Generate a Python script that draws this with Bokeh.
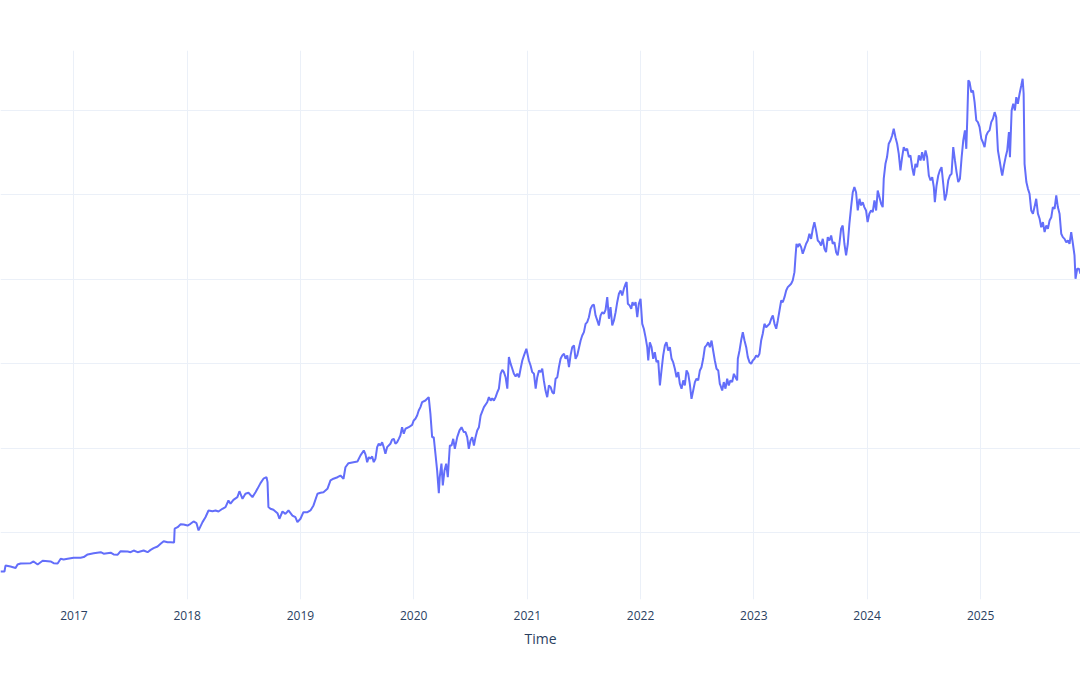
from datetime import datetime
from bokeh.plotting import figure
from bokeh.models import ColumnDataSource, Range1d, FixedTicker, Grid, DatetimeTickFormatter
from bokeh.embed import file_html
from bokeh.resources import INLINE

# Time in decimal years
time_years = [
    2016.353, 2016.388, 2016.397, 2016.441, 2016.486, 2016.503, 2016.530, 2016.618, 2016.644, 2016.680,
    2016.724, 2016.794, 2016.821, 2016.856, 2016.883, 2016.909, 2016.944, 2016.997, 2017.059, 2017.086,
    2017.121, 2017.174, 2017.236, 2017.262, 2017.324, 2017.350, 2017.386, 2017.412, 2017.474, 2017.500,
    2017.527, 2017.562, 2017.615, 2017.650, 2017.677, 2017.703, 2017.738, 2017.765, 2017.792, 2017.827,
    2017.853, 2017.884, 2017.889, 2017.915, 2017.942, 2017.968, 2018.003, 2018.029, 2018.056, 2018.082,
    2018.100, 2018.135, 2018.161, 2018.188, 2018.223, 2018.250, 2018.276, 2018.311, 2018.338, 2018.364,
    2018.382, 2018.408, 2018.443, 2018.461, 2018.488, 2018.514, 2018.541, 2018.576, 2018.603, 2018.620,
    2018.647, 2018.673, 2018.700, 2018.709, 2018.717, 2018.735, 2018.761, 2018.797, 2018.814, 2018.841,
    2018.867, 2018.894, 2018.929, 2018.955, 2018.973, 2019.000, 2019.026, 2019.062, 2019.088, 2019.115,
    2019.150, 2019.177, 2019.203, 2019.238, 2019.265, 2019.291, 2019.327, 2019.353, 2019.380, 2019.397,
    2019.424, 2019.468, 2019.503, 2019.530, 2019.559, 2019.574, 2019.589, 2019.603, 2019.618, 2019.633,
    2019.647, 2019.662, 2019.677, 2019.691, 2019.706, 2019.721, 2019.735, 2019.750, 2019.765, 2019.794,
    2019.809, 2019.824, 2019.838, 2019.853, 2019.868, 2019.882, 2019.897, 2019.912, 2019.927, 2019.956,
    2019.986, 2020.000, 2020.015, 2020.030, 2020.044, 2020.059, 2020.074, 2020.103, 2020.132, 2020.147,
    2020.162, 2020.176, 2020.191, 2020.206, 2020.221, 2020.229, 2020.244, 2020.256, 2020.271, 2020.286,
    2020.300, 2020.318, 2020.333, 2020.348, 2020.362, 2020.383, 2020.403, 2020.421, 2020.441, 2020.456,
    2020.471, 2020.485, 2020.500, 2020.515, 2020.530, 2020.544, 2020.559, 2020.574, 2020.589, 2020.618,
    2020.647, 2020.662, 2020.677, 2020.691, 2020.706, 2020.721, 2020.736, 2020.750, 2020.765, 2020.780,
    2020.794, 2020.809, 2020.824, 2020.838, 2020.853, 2020.868, 2020.882, 2020.897, 2020.912, 2020.927,
    2020.941, 2020.956, 2020.971, 2020.992, 2021.014, 2021.029, 2021.044, 2021.059, 2021.074, 2021.088,
    2021.103, 2021.118, 2021.132, 2021.146, 2021.161, 2021.176, 2021.191, 2021.206, 2021.221, 2021.235,
    2021.250, 2021.265, 2021.279, 2021.294, 2021.309, 2021.324, 2021.338, 2021.353, 2021.368, 2021.382,
    2021.397, 2021.412, 2021.426, 2021.441, 2021.471, 2021.485, 2021.500, 2021.515, 2021.529, 2021.544,
    2021.559, 2021.574, 2021.588, 2021.603, 2021.618, 2021.632, 2021.647, 2021.662, 2021.677, 2021.691,
    2021.706, 2021.721, 2021.735, 2021.750, 2021.765, 2021.780, 2021.794, 2021.809, 2021.824, 2021.838,
    2021.853, 2021.868, 2021.877, 2021.888, 2021.903, 2021.918, 2021.929, 2021.941, 2021.956, 2021.971,
    2021.985, 2022.000, 2022.015, 2022.029, 2022.044, 2022.059, 2022.068, 2022.082, 2022.097, 2022.112,
    2022.126, 2022.141, 2022.156, 2022.171, 2022.185, 2022.200, 2022.215, 2022.229, 2022.244, 2022.259,
    2022.274, 2022.288, 2022.303, 2022.318, 2022.333, 2022.347, 2022.362, 2022.377, 2022.391, 2022.406,
    2022.421, 2022.435, 2022.450, 2022.465, 2022.480, 2022.494, 2022.509, 2022.524, 2022.538, 2022.553,
    2022.568, 2022.582, 2022.597, 2022.612, 2022.627, 2022.641, 2022.656, 2022.671, 2022.686, 2022.700,
    2022.706, 2022.721, 2022.735, 2022.750, 2022.765, 2022.779, 2022.794, 2022.809, 2022.824, 2022.838,
    2022.853, 2022.859, 2022.874, 2022.888, 2022.903, 2022.918, 2022.933, 2022.947, 2022.962, 2022.977,
    2022.991, 2023.006, 2023.021, 2023.035, 2023.050, 2023.065, 2023.079, 2023.094, 2023.109, 2023.124,
    2023.139, 2023.154, 2023.168, 2023.183, 2023.198, 2023.212, 2023.227, 2023.242, 2023.256, 2023.271,
    2023.286, 2023.300, 2023.315, 2023.330, 2023.344, 2023.359, 2023.368, 2023.377, 2023.388, 2023.403,
    2023.418, 2023.432, 2023.447, 2023.462, 2023.477, 2023.491, 2023.506, 2023.521, 2023.535, 2023.550,
    2023.565, 2023.580, 2023.594, 2023.609, 2023.624, 2023.638, 2023.653, 2023.668, 2023.683, 2023.697,
    2023.712, 2023.727, 2023.741, 2023.756, 2023.771, 2023.785, 2023.800, 2023.815, 2023.830, 2023.844,
    2023.859, 2023.874, 2023.888, 2023.903, 2023.918, 2023.933, 2023.947, 2023.962, 2023.976, 2023.991,
    2024.005, 2024.020, 2024.035, 2024.050, 2024.065, 2024.080, 2024.094, 2024.109, 2024.124, 2024.138,
    2024.147, 2024.162, 2024.176, 2024.191, 2024.206, 2024.221, 2024.235, 2024.250, 2024.265, 2024.279,
    2024.294, 2024.309, 2024.323, 2024.338, 2024.353, 2024.368, 2024.382, 2024.397, 2024.412, 2024.426,
    2024.441, 2024.456, 2024.471, 2024.485, 2024.500, 2024.515, 2024.529, 2024.544, 2024.559, 2024.574,
    2024.588, 2024.597, 2024.612, 2024.627, 2024.641, 2024.656, 2024.671, 2024.685, 2024.700, 2024.715,
    2024.730, 2024.744, 2024.759, 2024.774, 2024.788, 2024.803, 2024.818, 2024.833, 2024.847, 2024.862,
    2024.874, 2024.883, 2024.892, 2024.903, 2024.918, 2024.933, 2024.947, 2024.962, 2024.976, 2024.991,
    2025.006, 2025.020, 2025.035, 2025.050, 2025.064, 2025.079, 2025.094, 2025.109, 2025.124, 2025.138,
    2025.153, 2025.168, 2025.182, 2025.191, 2025.206, 2025.221, 2025.235, 2025.250, 2025.259, 2025.274,
    2025.288, 2025.303, 2025.315, 2025.329, 2025.344, 2025.359, 2025.371, 2025.380, 2025.388, 2025.404,
    2025.418, 2025.432, 2025.447, 2025.462, 2025.476, 2025.491, 2025.506, 2025.521, 2025.535, 2025.550,
    2025.565, 2025.580, 2025.594, 2025.609, 2025.624, 2025.638, 2025.653, 2025.668, 2025.682, 2025.697,
    2025.712, 2025.726, 2025.741, 2025.756, 2025.771, 2025.785, 2025.800, 2025.815, 2025.829, 2025.838,
    2025.853, 2025.868, 2025.882,
]

values = [
    27.1, 27.1, 30.6, 30.0, 29.2, 31.2, 31.8, 32.0, 33.0, 31.2,
    33.4, 33.0, 32.0, 31.8, 34.6, 34.2, 34.6, 35.2, 35.2, 35.6,
    37.2, 37.9, 38.5, 37.6, 38.2, 37.2, 37.0, 39.1, 38.9, 38.5,
    39.5, 38.5, 39.5, 38.5, 39.9, 40.9, 41.9, 43.5, 45.0, 44.4,
    44.4, 44.3, 52.4, 53.3, 55.0, 54.9, 54.3, 55.3, 56.7, 55.7,
    51.4, 56.3, 59.2, 63.2, 62.8, 63.2, 62.6, 64.2, 65.2, 69.1,
    67.2, 69.5, 71.1, 74.6, 70.1, 73.1, 73.7, 71.1, 74.0, 76.0,
    79.4, 82.0, 82.9, 80.0, 65.2, 64.2, 63.6, 61.6, 58.3, 62.6,
    61.2, 63.2, 60.2, 59.2, 56.3, 58.3, 62.2, 62.2, 63.2, 66.2,
    73.1, 73.7, 74.0, 76.0, 81.0, 82.0, 82.9, 83.9, 82.0, 88.8,
    91.2, 91.8, 92.2, 95.8, 98.7, 96.4, 91.8, 94.8, 93.8, 95.2,
    91.8, 93.8, 100.7, 102.7, 101.7, 103.6, 100.7, 96.8, 100.7, 102.7,
    105.1, 105.6, 102.7, 103.6, 105.6, 107.6, 112.5, 108.6, 111.6, 112.5,
    113.9, 116.5, 117.5, 119.4, 122.4, 124.4, 127.3, 128.3, 130.3, 120.4,
    106.6, 106.6, 96.8, 86.9, 73.4, 82.9, 90.9, 78.0, 86.9, 90.9,
    82.9, 101.7, 101.7, 105.6, 99.7, 106.6, 110.6, 112.5, 109.6, 109.6,
    106.6, 99.7, 104.6, 106.6, 101.7, 106.6, 110.6, 112.5, 119.4, 124.4,
    127.3, 130.3, 128.3, 129.5, 128.3, 130.3, 133.2, 135.3, 144.1, 146.5,
    145.1, 142.1, 135.3, 154.0, 150.1, 147.1, 144.1, 142.5, 144.1, 142.1,
    147.1, 152.0, 155.0, 158.9, 152.0, 149.0, 145.1, 144.1, 135.3, 142.1,
    146.1, 145.1, 147.1, 140.2, 134.2, 130.3, 137.2, 136.2, 133.2, 132.3,
    141.2, 142.1, 148.0, 153.0, 155.0, 156.0, 153.0, 155.0, 148.0, 155.0,
    159.9, 160.9, 153.0, 155.0, 163.8, 166.8, 168.8, 173.7, 174.7, 177.6,
    182.6, 184.6, 185.0, 178.6, 175.7, 172.7, 178.6, 180.6, 179.7, 182.0,
    189.5, 176.7, 183.6, 172.7, 175.7, 180.6, 186.5, 191.5, 193.4, 190.5,
    194.5, 197.4, 198.4, 185.6, 184.6, 182.6, 186.5, 184.6, 186.5, 177.6,
    185.6, 188.5, 173.7, 170.8, 165.8, 159.9, 152.0, 162.8, 159.9, 153.0,
    156.9, 151.0, 152.0, 137.2, 146.1, 155.0, 160.9, 162.8, 157.9, 159.9,
    153.0, 151.0, 147.1, 142.1, 145.1, 138.2, 135.3, 140.2, 137.2, 146.1,
    144.1, 138.2, 129.3, 134.2, 139.2, 141.2, 140.2, 146.1, 148.0, 153.0,
    159.9, 160.9, 162.8, 159.9, 163.8, 157.9, 152.0, 147.1, 146.1, 138.2,
    137.2, 134.2, 139.2, 135.3, 141.2, 137.2, 140.2, 139.2, 144.1, 142.1,
    140.2, 153.0, 157.9, 163.8, 168.8, 163.8, 159.9, 154.0, 151.0, 150.1,
    152.0, 153.0, 155.0, 154.0, 156.0, 163.8, 167.8, 173.7, 171.7, 172.7,
    173.7, 176.7, 178.6, 173.7, 170.8, 175.7, 181.6, 187.5, 186.5, 189.5,
    193.4, 195.4, 196.4, 197.4, 199.4, 204.3, 213.2, 221.1, 219.1, 221.1,
    219.1, 215.2, 218.1, 221.1, 223.0, 227.0, 224.0, 230.0, 233.9, 229.0,
    223.0, 222.0, 220.1, 224.0, 218.1, 216.1, 225.0, 223.0, 226.0, 221.1,
    222.0, 216.1, 214.2, 221.1, 230.0, 231.9, 221.1, 214.2, 221.1, 232.9,
    242.8, 251.6, 254.6, 251.6, 240.8, 247.7, 243.8, 245.7, 242.8, 240.8,
    233.9, 238.9, 240.8, 239.8, 246.7, 240.8, 252.6, 248.7, 244.8, 242.8,
    259.6, 268.4, 272.4, 280.3, 282.2, 285.2, 289.2, 284.2, 280.3, 274.4,
    264.5, 272.4, 278.3, 276.3, 277.3, 272.4, 273.4, 266.4, 261.5, 268.4,
    266.4, 273.4, 270.4, 275.3, 270.4, 276.3, 272.4, 261.5, 258.6, 260.5,
    254.6, 245.7, 255.6, 261.5, 264.5, 266.4, 256.6, 246.7, 250.7, 258.6,
    261.5, 262.5, 278.3, 270.4, 263.5, 257.6, 259.6, 272.4, 282.2, 288.2,
    277.3, 296.0, 317.8, 316.8, 310.8, 311.8, 304.9, 294.1, 293.1, 290.1,
    283.3, 281.2, 278.3, 285.2, 287.2, 288.2, 293.1, 295.1, 299.0, 296.0,
    276.3, 270.4, 264.5, 261.5, 267.4, 272.4, 276.3, 287.2, 272.4, 300.0,
    304.0, 300.0, 307.9, 304.0, 309.9, 314.8, 318.8, 309.9, 268.4, 257.6,
    253.6, 250.7, 240.8, 238.9, 242.8, 247.7, 238.9, 235.9, 230.9, 233.9,
    228.0, 231.9, 230.0, 234.9, 236.8, 242.8, 241.8, 249.7, 242.8, 238.9,
    227.0, 225.0, 224.0, 222.0, 223.0, 221.1, 228.0, 221.1, 214.2, 200.4,
    206.3, 206.3, 203.3,
]

year_ticks = [2017, 2018, 2019, 2020, 2021, 2022, 2023, 2024, 2025]
y_grid_values = [50, 100, 150, 200, 250, 300]
x_title = "Time"


def to_dt(t):
    y = int(t)
    a = datetime(y, 1, 1)
    b = datetime(y + 1, 1, 1)
    return a + (b - a) * (t - y)


dates = [to_dt(t) for t in time_years]
source = ColumnDataSource(data=dict(date=dates, value=values))

p = figure(
    width=1080, height=675,
    x_axis_type="datetime",
    y_axis_location=None,
    output_backend="svg",
    toolbar_location=None,
    x_range=Range1d(dates[0], dates[-1]),
    y_range=Range1d(10.5, 335.5),
    min_border_left=0, min_border_right=0,
    min_border_top=50, min_border_bottom=76,
)
p.background_fill_color = "white"
p.border_fill_color = "white"
p.outline_line_color = None

# remove default y grid and add a fixed one
p.center = [r for r in p.center if not (isinstance(r, Grid) and r.dimension == 1)]
p.add_layout(Grid(dimension=1, ticker=FixedTicker(ticks=y_grid_values),
                  grid_line_color="#EBF0F8", grid_line_width=1), "center")

tick_ms = [datetime(y, 1, 1).timestamp() * 1000 for y in year_ticks]
p.xaxis.ticker = FixedTicker(ticks=tick_ms)
p.xaxis.formatter = DatetimeTickFormatter(
    years="%Y", months="%Y", days="%Y", hours="%Y", minutes="%Y",
    seconds="%Y", milliseconds="%Y", microseconds="%Y", hourmin="%Y", minsec="%Y",
)
p.xgrid.grid_line_color = "#EBF0F8"
p.xgrid.grid_line_width = 1

p.xaxis.axis_line_color = None
p.xaxis.major_tick_line_color = None
p.xaxis.minor_tick_line_color = None
p.xaxis.major_tick_out = 0
p.xaxis.major_tick_in = 0
p.xaxis.major_label_standoff = 11
p.xaxis.major_label_text_font = "Open Sans"
p.xaxis.major_label_text_font_size = "12px"
p.xaxis.major_label_text_color = "#2a3f5f"
p.xaxis.axis_label = x_title
p.xaxis.axis_label_text_font = "Open Sans"
p.xaxis.axis_label_text_font_size = "14px"
p.xaxis.axis_label_text_font_style = "normal"
p.xaxis.axis_label_text_color = "#2a3f5f"
p.xaxis.axis_label_standoff = 6

p.line("date", "value", source=source, line_color="#636EFA", line_width=2)

open("out.html", "w").write(file_html(p, INLINE))
